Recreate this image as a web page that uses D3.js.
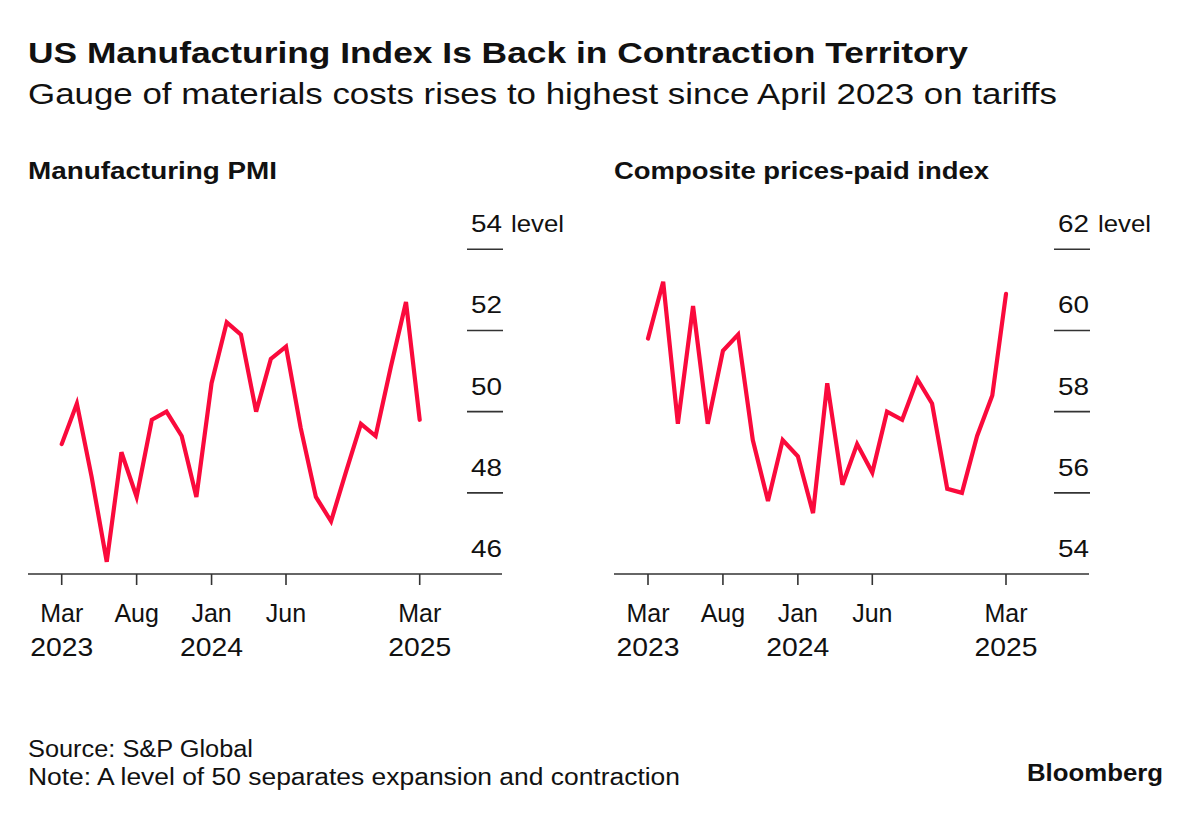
<!DOCTYPE html>
<html>
<head>
<meta charset="utf-8">
<script src="https://cdn.jsdelivr.net/npm/d3@7"></script>
<style>
  body { margin: 0; background: #fff; }
  svg { display: block; font-family: "Liberation Sans", Arial, sans-serif; }
</style>
</head>
<body>
<svg id="chart" width="1200" height="825"></svg>
<script>
// monthly observations, Mar 2023 .. Mar 2025
const months = [
  '2023-03', '2023-04', '2023-05', '2023-06', '2023-07', '2023-08', '2023-09',
  '2023-10', '2023-11', '2023-12', '2024-01', '2024-02', '2024-03', '2024-04',
  '2024-05', '2024-06', '2024-07', '2024-08', '2024-09', '2024-10', '2024-11',
  '2024-12', '2025-01', '2025-02', '2025-03'
];
const pmiValues = [
  49.2, 50.2, 48.4, 46.3, 49.0, 47.9, 49.8, 50.0, 49.4, 47.9, 50.7, 52.2, 51.9,
  50.0, 51.3, 51.6, 49.6, 47.9, 47.3, 48.5, 49.7, 49.4, 51.1, 52.7, 49.8
];
const pricesValues = [
  59.8, 61.2, 57.7, 60.6, 57.7, 59.5, 59.9, 57.3, 55.8, 57.3, 56.9, 55.5, 58.7,
  56.2, 57.2, 56.5, 58.0, 57.8, 58.8, 58.2, 56.1, 56.0, 57.4, 58.4, 60.9
];
const xTicks = ['2023-03', '2023-08', '2024-01', '2024-06', '2025-03'];
const xTickMonth = ['Mar', 'Aug', 'Jan', 'Jun', 'Mar'];
const xTickYear = ['2023', '', '2024', '', '2025'];
const pmiTicks = [46, 48, 50, 52, 54];
const pricesTicks = [54, 56, 58, 60, 62];

const parse = d3.timeParse('%Y-%m');
const red = '#fa0a3c';
const ink = '#111';
const axisColor = '#333';

const svg = d3.select('#chart');

// the original face is a wide grotesque, stretch Liberation Sans to its widths
function addText(parent, x, y, str, size, opts = {}) {
  const t = parent.append('text')
      .attr('x', x).attr('y', y)
      .attr('font-size', size)
      .attr('fill', ink)
      .text(str);
  if (opts.bold) t.attr('font-weight', 700);
  if (opts.anchor) t.attr('text-anchor', opts.anchor);
  if (opts.width) t.attr('textLength', opts.width).attr('lengthAdjust', 'spacingAndGlyphs');
  return t;
}

// headline
addText(svg, 28, 63, 'US Manufacturing Index Is Back in Contraction Territory', 29,
    { bold: true, width: 940 });
addText(svg, 28, 104, 'Gauge of materials costs rises to highest since April 2023 on tariffs', 29,
    { width: 1029 });

function drawPanel(opts) {
  const g = svg.append('g');
  const { left, baseStart, baseEnd, values, ticks, title, titleWidth } = opts;

  const x = d3.scaleTime()
      .domain([parse(months[0]), parse(months[months.length - 1])])
      .range([left, left + 358]);
  const y = d3.scaleLinear()
      .domain([ticks[0], ticks[ticks.length - 1]])
      .range([574, 249.3]);

  addText(g, baseStart, 179, title, 24, { bold: true, width: titleWidth });

  // y ticks: short rules on the right with labels above
  const labelRight = baseEnd;
  ticks.forEach((t, i) => {
    if (i > 0) {
      g.append('line')
          .attr('x1', labelRight - 35).attr('x2', labelRight + 1)
          .attr('y1', y(t)).attr('y2', y(t))
          .attr('stroke', axisColor).attr('stroke-width', 1.6);
    }
    addText(g, labelRight, y(t) - 17, t, 24, { anchor: 'end', width: 31 });
    if (i === ticks.length - 1) {
      addText(g, labelRight + 9, y(t) - 17, 'level', 24, { width: 53 });
    }
  });

  // baseline + x ticks
  g.append('line')
      .attr('x1', baseStart).attr('x2', baseEnd)
      .attr('y1', 574).attr('y2', 574)
      .attr('stroke', axisColor).attr('stroke-width', 1.6);

  xTicks.forEach((m, i) => {
    const xp = x(parse(m));
    g.append('line')
        .attr('x1', xp).attr('x2', xp)
        .attr('y1', 574).attr('y2', 585)
        .attr('stroke', axisColor).attr('stroke-width', 1.6);
    addText(g, xp, 622, xTickMonth[i], 25, { anchor: 'middle' });
    if (xTickYear[i]) {
      addText(g, xp, 656, xTickYear[i], 25, { anchor: 'middle', width: 63 });
    }
  });

  const line = d3.line()
      .x((d, i) => x(parse(months[i])))
      .y(d => y(d));

  g.append('path')
      .datum(values)
      .attr('d', line)
      .attr('fill', 'none')
      .attr('stroke', red)
      .attr('stroke-width', 4.2)
      .attr('stroke-linejoin', 'miter')
      .attr('stroke-linecap', 'round');
}

drawPanel({
  left: 61.7, baseStart: 28, baseEnd: 502,
  values: pmiValues, ticks: pmiTicks,
  title: 'Manufacturing PMI', titleWidth: 249
});
drawPanel({
  left: 648, baseStart: 614, baseEnd: 1089,
  values: pricesValues, ticks: pricesTicks,
  title: 'Composite prices-paid index', titleWidth: 375
});

// footer
addText(svg, 28, 757, 'Source: S&P Global', 23, { width: 225 });
addText(svg, 28, 785, 'Note: A level of 50 separates expansion and contraction', 23, { width: 652 });
addText(svg, 1163, 781, 'Bloomberg', 24, { bold: true, anchor: 'end', width: 136 });
</script>
</body>
</html>
